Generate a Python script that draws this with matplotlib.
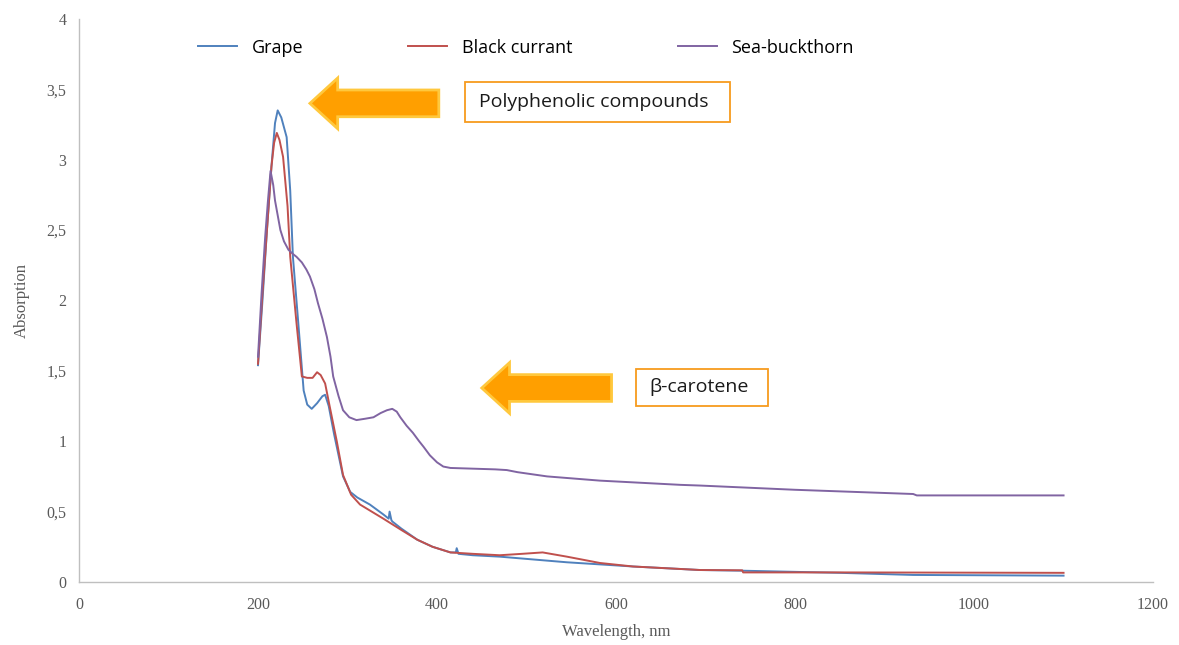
import numpy as np
import matplotlib
matplotlib.use("Agg")
import matplotlib.pyplot as plt
import matplotlib.patches as mpatches

# spectra (wavelength in nm, absorption)
grape_nm = [200, 205, 210, 215, 219, 222, 226, 232, 236, 239, 245, 251, 255, 260,
            266, 272, 275, 279, 285, 295, 303, 311, 325, 340, 346, 347, 349, 350,
            360, 378, 395, 415, 421, 422, 424, 440, 470, 545, 619, 694, 742, 850,
            932, 1100]
grape_abs = [1.54, 2.0, 2.5, 2.95, 3.26, 3.35, 3.3, 3.16, 2.78, 2.31, 1.84, 1.36,
             1.26, 1.23, 1.27, 1.32, 1.33, 1.25, 1.05, 0.75, 0.64, 0.60, 0.55,
             0.48, 0.45, 0.50, 0.44, 0.43, 0.38, 0.30, 0.25, 0.21, 0.21, 0.24,
             0.20, 0.19, 0.18, 0.14, 0.11, 0.085, 0.08, 0.065, 0.05, 0.045]

currant_nm = [200, 205, 210, 215, 218, 221, 224, 228, 233, 236, 243, 249, 255, 261,
              266, 270, 275, 280, 288, 295, 304, 314, 327, 340, 360, 378, 395, 415,
              440, 470, 495, 518, 545, 582, 619, 694, 741, 742, 850, 1100]
currant_abs = [1.55, 2.05, 2.5, 2.95, 3.12, 3.19, 3.14, 3.02, 2.67, 2.31, 1.84, 1.46,
               1.45, 1.45, 1.49, 1.47, 1.41, 1.25, 1.0, 0.76, 0.62, 0.55, 0.50,
               0.45, 0.37, 0.30, 0.25, 0.21, 0.20, 0.19, 0.20, 0.21, 0.18, 0.135,
               0.11, 0.085, 0.083, 0.068, 0.068, 0.065]

buckthorn_nm = [200, 204, 208, 211, 214, 217, 219, 225, 229, 234, 239, 243, 249, 254,
                258, 263, 267, 272, 277, 281, 284, 290, 295, 302, 310, 320, 329, 337,
                344, 350, 355, 359, 366, 373, 380, 385, 392, 400, 407, 415, 440, 465,
                478, 490, 523, 582, 672, 694, 800, 932, 936, 1100]
buckthorn_abs = [1.6, 2.05, 2.45, 2.7, 2.92, 2.82, 2.71, 2.5, 2.42, 2.36, 2.33, 2.31,
                 2.27, 2.22, 2.17, 2.08, 1.98, 1.87, 1.74, 1.6, 1.46, 1.32, 1.22,
                 1.17, 1.15, 1.16, 1.17, 1.20, 1.22, 1.23, 1.21, 1.17, 1.11, 1.06,
                 1.0, 0.96, 0.9, 0.85, 0.82, 0.81, 0.805, 0.80, 0.795, 0.78, 0.75,
                 0.72, 0.69, 0.685, 0.655, 0.625, 0.615, 0.615]

x_ticks = [0, 200, 400, 600, 800, 1000, 1200]
y_ticks = [0, 0.5, 1, 1.5, 2, 2.5, 3, 3.5, 4]
y_labels = ["0", "0,5", "1", "1,5", "2", "2,5", "3", "3,5", "4"]

fig = plt.figure(figsize=(11.79, 6.45), dpi=100)
ax = fig.add_axes([0.067, 0.0977, 0.911, 0.873])

ax.plot(grape_nm, grape_abs, color="#4f81bd", lw=1.4, label="Grape")
ax.plot(currant_nm, currant_abs, color="#c0504d", lw=1.4, label="Black currant")
ax.plot(buckthorn_nm, buckthorn_abs, color="#8064a2", lw=1.4, label="Sea-buckthorn")

ax.set_xlim(0, 1200)
ax.set_ylim(0, 4)
ax.set_xticks(x_ticks)
ax.set_yticks(y_ticks)
ax.set_yticklabels(y_labels)
for sp in ["top", "right"]:
    ax.spines[sp].set_visible(False)
for sp in ["left", "bottom"]:
    ax.spines[sp].set_color("#bfbfbf")
    ax.spines[sp].set_linewidth(1.0)
ax.tick_params(length=0, labelsize=11.5, labelcolor="#595959")
ax.tick_params(axis="y", pad=9)
ax.tick_params(axis="x", pad=11)
for lab in ax.get_xticklabels() + ax.get_yticklabels():
    lab.set_family("Liberation Serif")

ax.set_xlabel("Wavelength, nm", family="Liberation Serif", fontsize=12,
              color="#595959", labelpad=8)
ax.set_ylabel("Absorption", family="Liberation Serif", fontsize=12,
              color="#595959", labelpad=12)

leg = ax.legend(loc="center left", bbox_to_anchor=(0.1108, 0.949), ncol=3,
                frameon=False, prop={"family": "Open Sans", "size": 13},
                handlelength=2.16, handletextpad=0.83, columnspacing=5.8,
                borderpad=0, borderaxespad=0)

# orange arrows
for tip, tail, yc in [(258, 402, 3.40), (450, 595, 1.378)]:
    arr = mpatches.FancyArrow(tail, yc, tip - tail, 0, width=0.19,
                              head_width=0.36, head_length=31,
                              length_includes_head=True, facecolor="#ff9f00",
                              edgecolor="#ffc83d", lw=2, zorder=5)
    ax.add_patch(arr)

# boxed labels (axes fraction)
for x0, y0, w, h, tx, ty, txt in [(0.3594, 0.8171, 0.2467, 0.0710, 0.3724, 0.8526,
                                   "Polyphenolic compounds"),
                                  (0.5186, 0.3126, 0.1229, 0.0657, 0.5307, 0.3455,
                                   "β-carotene")]:
    ax.add_patch(mpatches.Rectangle((x0, y0), w, h, transform=ax.transAxes,
                                    facecolor="white", edgecolor="#f79b1e",
                                    lw=1.3, zorder=6))
    ax.text(tx, ty, txt, transform=ax.transAxes, family="Open Sans",
            fontsize=14, color="#1a1a1a", va="center", ha="left", zorder=7)

fig.savefig("out.png", dpi=100)
